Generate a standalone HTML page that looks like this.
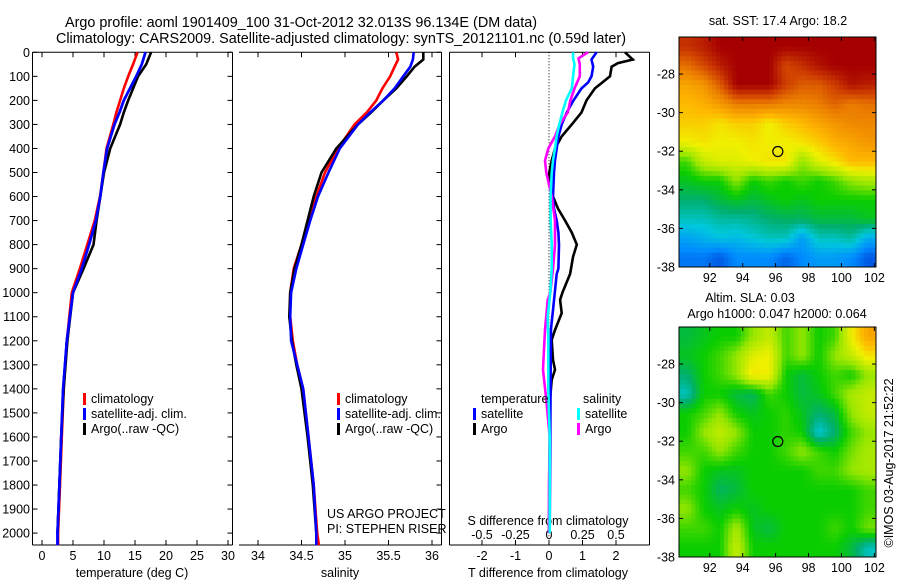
<!DOCTYPE html>
<html><head><meta charset="utf-8"><style>
body{margin:0;background:#fff;}
svg{display:block;font-family:"Liberation Sans",sans-serif;}
</style></head><body>
<svg id="chart" width="900" height="580" viewBox="0 0 900 580" xmlns="http://www.w3.org/2000/svg">
<rect width="900" height="580" fill="#fff"/>
<g id="root"></g>
</svg>
<script>
// ---- temperature panel data ----
const tDepths = [0,50,100,150,200,250,300,400,500,600,700,800,900,1000,1200,1400,1600,1800,2000,2050];
const tClim   = [15.4,14.7,13.9,13.2,12.6,12.0,11.5,10.4,9.9,9.35,8.5,7.3,6.1,4.8,4.0,3.5,3.2,2.9,2.6,2.6];
const tSat    = [16.7,16.1,15.2,14.2,13.2,12.5,11.7,10.5,9.9,9.4,8.7,7.6,6.4,5.0,4.0,3.4,3.1,2.8,2.5,2.5];
const tArgo   = [17.6,16.8,15.5,14.7,13.9,13.2,12.6,11.0,10.0,9.4,8.8,8.3,6.7,5.0,4.1,3.5,3.1,2.8,2.5,2.5];
const tTicks  = [0,5,10,15,20,25,30];
// ---- salinity panel data ----
const sDepths = [0,30,60,100,150,200,250,300,400,500,600,700,800,900,1000,1100,1200,1300,1400,1600,1800,2000,2050];
const sClim   = [35.59,35.61,35.57,35.52,35.43,35.36,35.25,35.11,34.92,34.77,34.67,34.58,34.50,34.41,34.37,34.37,34.40,34.45,34.52,34.58,34.64,34.68,34.70];
const sSat    = [35.79,35.78,35.75,35.67,35.57,35.44,35.29,35.15,34.94,34.81,34.69,34.60,34.52,34.44,34.38,34.37,34.38,34.45,34.52,34.58,34.64,34.67,34.67];
const sArgo   = [35.90,35.90,35.80,35.71,35.59,35.44,35.30,35.15,34.90,34.73,34.64,34.57,34.50,34.42,34.37,34.36,34.39,34.44,34.50,34.57,34.63,34.67,34.67];
const sTicks  = [34,34.5,35,35.5,36];
// ---- difference panel data ----
const dArgoTDepths = [0,30,45,60,100,125,150,200,250,300,350,400,450,500,550,600,650,700,750,800,850,922,1000,1030,1085,1155,1196,1280,1320,1363,1446,1600,1800,2000];
const dArgoT       = [2.27,2.5,2.06,1.87,1.82,1.6,1.37,1.12,0.97,0.68,0.38,0.18,0.08,0.01,0,0.12,0.27,0.48,0.68,0.83,0.72,0.63,0.4,0.33,0.38,0.18,0.08,0.12,0.18,0.08,0.03,0.02,0.01,0];
const dSatTDepths  = [0,30,60,100,125,150,200,250,300,350,400,450,500,600,650,700,750,800,900,922,1072,1150,1300,1600,1800,2000];
const dSatT        = [1.42,1.27,1.32,1.27,1.17,0.97,0.73,0.53,0.38,0.28,0.23,0.18,0.15,0.12,0.15,0.23,0.28,0.3,0.28,0.23,0.12,0.06,0.05,0.04,0.03,0.02];
const dArgoSDepths = [0,25,50,100,150,200,250,300,350,400,450,500,550,600,700,800,900,1000,1030,1155,1320,1446,1600,1800,2000];
const dArgoS       = [0.29,0.22,0.23,0.23,0.19,0.16,0.14,0.08,0.045,-0.005,-0.03,-0.02,0,0.02,0.045,0.045,0.03,0.01,-0.01,-0.03,-0.045,-0.02,0.005,0,0];
const dSatSDepths  = [0,25,50,100,150,200,250,300,350,400,450,500,600,700,800,900,1000,1100,1200,1400,1600,1800,2000];
const dSatS        = [0.18,0.18,0.19,0.18,0.17,0.127,0.1,0.077,0.057,0.045,0.03,0.02,0.012,0.012,0.02,0.02,0.01,-0.01,-0.005,-0.005,0.005,0.005,0.005];
const dTTicks = [-2,-1,0,1,2];
const dSTicks = [-0.5,-0.25,0,0.25,0.5];
const dSTickLabels = ["-0.5","-0.25","0","0.25","0.5"];
const depthTicks = [0,100,200,300,400,500,600,700,800,900,1000,1100,1200,1300,1400,1500,1600,1700,1800,1900,2000];
// ---- maps data (rows north->south, cols west->east; normalized colour value) ----
const sstGrid = [
[.92,.95,1,1,1,1,1,1,1,1,1,1],
[.82,.88,.95,1,1,1,.88,.92,.97,1,1,1],
[.72,.75,.85,1,1,1,.9,.85,.85,.9,.97,.95],
[.68,.7,.74,.8,.8,.8,.78,.78,.8,.84,.8,.82],
[.65,.65,.62,.65,.65,.6,.65,.68,.72,.75,.78,.78],
[.6,.62,.6,.6,.62,.6,.6,.62,.65,.7,.72,.75],
[.45,.55,.58,.58,.6,.62,.62,.5,.58,.62,.68,.68],
[.4,.42,.42,.5,.42,.45,.42,.45,.42,.45,.5,.52],
[.35,.35,.38,.4,.38,.4,.42,.4,.42,.42,.42,.42],
[.3,.3,.32,.32,.33,.35,.36,.36,.38,.38,.38,.4],
[.23,.25,.27,.26,.28,.3,.3,.22,.3,.3,.32,.24],
[.18,.18,.15,.2,.2,.2,.16,.2,.22,.22,.2,.15]];
const slaGrid = [
[.38,.4,.42,.42,.5,.55,.45,.5,.42,.45,.6,.72],
[.4,.42,.45,.5,.58,.6,.45,.5,.42,.5,.55,.62],
[.35,.42,.45,.5,.62,.6,.42,.38,.42,.45,.42,.5],
[.3,.42,.42,.38,.36,.45,.42,.38,.4,.45,.52,.55],
[.42,.45,.5,.42,.4,.42,.44,.4,.35,.38,.5,.55],
[.42,.5,.55,.5,.42,.42,.44,.42,.28,.35,.45,.5],
[.45,.45,.5,.45,.42,.42,.45,.5,.45,.42,.48,.52],
[.5,.42,.4,.4,.42,.42,.42,.42,.45,.45,.5,.52],
[.45,.42,.36,.38,.42,.42,.42,.42,.42,.42,.42,.45],
[.5,.42,.4,.42,.4,.42,.42,.42,.42,.42,.42,.45],
[.45,.45,.42,.52,.4,.38,.42,.42,.42,.45,.42,.48],
[.42,.42,.42,.55,.42,.42,.42,.42,.42,.42,.38,.3]];
const lonTicks = [92,94,96,98,100,102];
const latTicks = [-28,-30,-32,-34,-36,-38];
const floatLon = 96.134, floatLat = -32.013;

const NS="http://www.w3.org/2000/svg";
const root=document.getElementById('root');
function mk(tag,attrs,parent,text){const e=document.createElementNS(NS,tag);for(const k in attrs)e.setAttribute(k,attrs[k]);if(text!==undefined)e.textContent=text;(parent||root).appendChild(e);return e;}

const TOP=52.3, BOT=545;
const yD = d => TOP + d*0.2404;
const xT = t => 42 + t*6.2;
const xS = s => 258 + (s-34)*87;
const xDT = t => 549 + t*33.5;
const xDS = s => 549 + s*134;

function line(xs,ys,fx,color,name){
  let d='';
  for(let i=0;i<xs.length;i++){d+=(i?'L':'M')+fx(xs[i]).toFixed(1)+' '+yD(ys[i]).toFixed(1);}
  const p=mk('path',{d:d,fill:'none',stroke:color,'stroke-width':2.6,'stroke-linejoin':'miter'});
  
  
}
function txt(x,y,s,anchor,size,name,extra){
  const t=mk('text',Object.assign({x:x,y:y,'font-size':size||12,'text-anchor':anchor||'start',fill:'#000'},extra||{}),root,s);
  
  
  return t;
}
function seg(x1,y1,x2,y2,name,extra){
  const l=mk('line',Object.assign({x1:x1,y1:y1,x2:x2,y2:y2,stroke:'#000','stroke-width':1},extra||{}));
  
  
}

// titles
txt(301,27,"Argo profile: aoml 1901409_100 31-Oct-2012 32.013S 96.134E (DM data)","middle",14.4,"title-line-1");
txt(341,43,"Climatology: CARS2009. Satellite-adjusted climatology: synTS_20121101.nc (0.59d later)","middle",14.4,"title-line-2");

// panel frames
seg(32.5,TOP,232.5,TOP,"temp-top-axis");seg(32.5,BOT,232.5,BOT,"temp-bottom-axis");
seg(32.5,TOP,32.5,BOT,"temp-left-axis");seg(232.5,TOP,232.5,BOT,"temp-right-axis");
seg(239,TOP,441.5,TOP,"sal-top-axis");seg(239,BOT,441.5,BOT,"sal-bottom-axis");seg(441.5,TOP,441.5,BOT,"sal-right-axis");
seg(449.5,TOP,649.5,TOP,"diff-top-axis");seg(449.5,BOT,649.5,BOT,"diff-bottom-axis");
seg(449.5,TOP,449.5,BOT,"diff-left-axis");seg(649.5,TOP,649.5,BOT,"diff-right-axis");

// depth ticks
for(const d of depthTicks){
  const y=yD(d);
  seg(32.5,y,37.5,y,"depth-tick");
  seg(227.5,y,232.5,y,"depth-tick-right");
  seg(436.5,y,441.5,y,"sal-depth-tick-right");
  txt(30,y+4.5,String(d),"end",12.5,"depth-tick-label");
}
// temp ticks
for(const t of tTicks){const x=xT(t);seg(x,BOT,x,BOT-5,"temp-tick");seg(x,TOP,x,TOP+5,"temp-tick-top");txt(x,560,String(t),"middle",12.5,"temp-tick-label");}
txt(132,577,"temperature (deg C)","middle",12.5,"x-axis-title-temperature");
for(const s of sTicks){const x=xS(s);seg(x,BOT,x,BOT-5,"sal-tick");seg(x,TOP,x,TOP+5,"sal-tick-top");txt(x,560,String(s),"middle",12.5,"sal-tick-label");}
txt(340,577,"salinity","middle",12.5,"x-axis-title-salinity");
for(const t of dTTicks){const x=xDT(t);seg(x,BOT,x,BOT-5,"tdiff-tick");if(t!==0)seg(x,TOP,x,TOP+5,"tdiff-tick-top");txt(x,560,String(t),"middle",12.5,"tdiff-tick-label");}
txt(548,577,"T difference from climatology","middle",12.5,"x-axis-title-tdiff");
dSTicks.forEach((s,i)=>{txt(xDS(s),539,dSTickLabels[i],"middle",12.5,"sdiff-tick-label");});
txt(548,525,"S difference from climatology","middle",12.5,"sdiff-axis-title");
seg(549,TOP,549,BOT,"zero-line",{'stroke-dasharray':'1,2'});

// temperature lines
line(tClim,tDepths,xT,'#f00','temp-climatology-line');
line(tSat,tDepths,xT,'#00f','temp-satellite-line');
line(tArgo.slice(0,19),tDepths.slice(0,19),xT,'#000','temp-argo-line');
line(tSat,tDepths,xT,'#00f','temp-satellite-line-top');
// salinity lines
line(sClim,sDepths,xS,'#f00','sal-climatology-line');
line(sArgo.slice(0,22),sDepths.slice(0,22),xS,'#000','sal-argo-line');
line(sSat,sDepths,xS,'#00f','sal-satellite-line');
// diff lines
line(dArgoT,dArgoTDepths,xDT,'#000','tdiff-argo-line');
line(dSatT,dSatTDepths,xDT,'#00f','tdiff-satellite-line');
line(dArgoS,dArgoSDepths,xDS,'#f0f','sdiff-argo-line');
line(dSatS,dSatSDepths,xDS,'#0ff','sdiff-satellite-line');

// legends
function legItem(x,y,color,label,name){
  const r=mk('rect',{x:x,y:y-10,width:3,height:12,fill:color});
  
  
  txt(x+8,y,label,"start",12.5,name);
}
legItem(83,403,'#f00','climatology','legend-temp-climatology');
legItem(83,418,'#00f','satellite-adj. clim.','legend-temp-satellite');
legItem(83,433,'#000','Argo(..raw -QC)','legend-temp-argo');
legItem(337,403,'#f00','climatology','legend-sal-climatology');
legItem(337,418,'#00f','satellite-adj. clim.','legend-sal-satellite');
legItem(337,433,'#000','Argo(..raw -QC)','legend-sal-argo');
txt(481,403,"temperature","start",12.5,"legend-diff-temperature-header");
txt(583,403,"salinity","start",12.5,"legend-diff-salinity-header");
legItem(473,418,'#00f','satellite','legend-diff-temp-satellite');
legItem(473,433,'#000','Argo','legend-diff-temp-argo');
legItem(577,418,'#0ff','satellite','legend-diff-sal-satellite');
legItem(577,433,'#f0f','Argo','legend-diff-sal-argo');
txt(327,518,"US ARGO PROJECT","start",12.5,"project-label");
txt(327,533,"PI: STEPHEN RISER","start",12.5,"pi-label");

// maps
const stops=[[0.1,[0,40,200]],[0.2,[0,140,255]],[0.28,[0,200,220]],[0.35,[0,175,110]],[0.42,[10,205,0]],[0.5,[150,230,0]],[0.6,[240,240,0]],[0.68,[255,185,0]],[0.8,[235,125,0]],[0.9,[205,60,0]],[1.0,[165,0,0]]];
function cmap(v){
  if(v<=stops[0][0])return stops[0][1];
  for(let i=1;i<stops.length;i++){if(v<=stops[i][0]){const a=stops[i-1],b=stops[i];const f=(v-a[0])/(b[0]-a[0]);return a[1].map((c,k)=>Math.round(c+(b[1][k]-c)*f));}}
  return stops[stops.length-1][1];
}
const MX0=679, MX1=876, LON0=90.13, LON1=102.1;
const xLon = lo => MX0 + (lo-LON0)*(MX1-MX0)/(LON1-LON0);
function drawMap(grid,top,name){
  const bot=top+230;
  const yLat = la => top + (-26.08-la)*(bot-top)/(38-26.08);
  const g=mk('g',{});
  
  
  const R=grid.length,C=grid[0].length,sub=4;
  const cw=(MX1-MX0)/(C*sub), ch=(bot-top)/(R*sub);
  for(let i=0;i<R*sub;i++){
    for(let j=0;j<C*sub;j++){
      const fy=Math.min(Math.max((i+0.5)/sub-0.5,0),R-1), fx=Math.min(Math.max((j+0.5)/sub-0.5,0),C-1);
      const i0=Math.floor(fy),j0=Math.floor(fx),i1=Math.min(i0+1,R-1),j1=Math.min(j0+1,C-1);
      const a=fy-i0,b=fx-j0;
      const v=grid[i0][j0]*(1-a)*(1-b)+grid[i0][j1]*(1-a)*b+grid[i1][j0]*a*(1-b)+grid[i1][j1]*a*b;
      const c=cmap(v);
      mk('rect',{x:(MX0+j*cw).toFixed(2),y:(top+i*ch).toFixed(2),width:(cw+0.5).toFixed(2),height:(ch+0.5).toFixed(2),fill:`rgb(${c[0]},${c[1]},${c[2]})`},g);
    }
  }
  mk('rect',{x:MX0,y:top,width:MX1-MX0,height:bot-top,fill:'none',stroke:'#000','stroke-width':1},g);
  for(const lo of lonTicks){const x=xLon(lo);seg(x,top,x,top+4,"lon-tick");seg(x,bot,x,bot-4,"lon-tick-bottom");txt(x,bot+15,String(lo),"middle",12.5,"lon-tick-label");}
  for(const la of latTicks){const y=yLat(la);seg(MX0,y,MX0+4,y,"lat-tick");seg(MX1,y,MX1-4,y,"lat-tick-right");txt(675,y+4.5,String(la),"end",12.5,"lat-tick-label");}
  const c=mk('circle',{cx:xLon(floatLon),cy:yLat(floatLat),r:5,fill:'none',stroke:'#000','stroke-width':1.2});
  
  
}
drawMap(sstGrid,37,'sst-map');
drawMap(slaGrid,327,'sla-map');
txt(778,25,"sat. SST: 17.4  Argo: 18.2","middle",12.5,"sst-map-title");
txt(750,302,"Altim. SLA: 0.03","middle",12.5,"sla-map-title");
txt(777,318,"Argo h1000: 0.047  h2000: 0.064","middle",12.5,"sla-map-subtitle");
txt(0,0,"©IMOS 03-Aug-2017 21:52:22","middle",12.5,"timestamp-label",{transform:"translate(893,463) rotate(-90)"});
</script>
</body></html>
